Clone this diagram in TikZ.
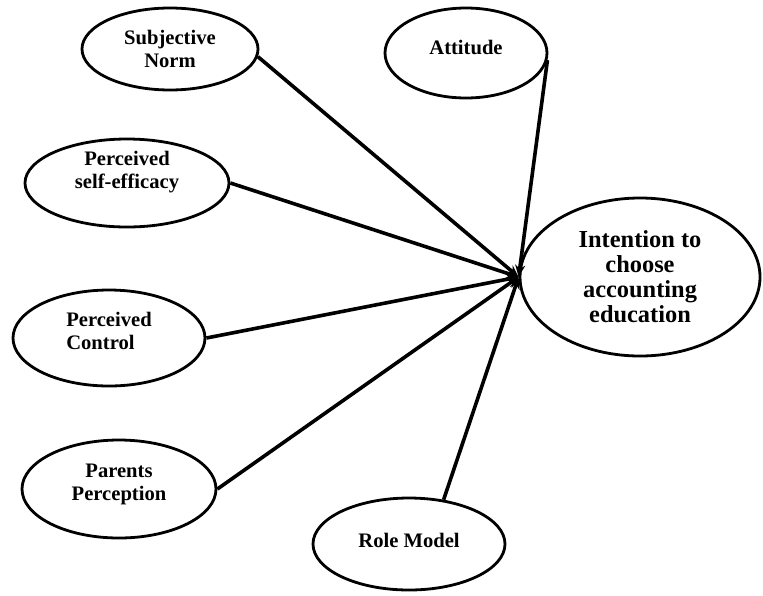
\documentclass[tikz,border=0pt]{standalone}
\usepackage{fontspec}
\setmainfont{Liberation Serif}
\usetikzlibrary{arrows.meta,shapes.geometric}

\begin{document}
\begin{tikzpicture}[x=0.5pt,y=-0.5pt,
  factor/.style={ellipse,draw,line width=1.4pt,inner sep=0pt},
  caption/.style={align=center,font=\fontsize{10.3}{11.5}\selectfont\bfseries},
  link/.style={line width=1.8pt,-{Stealth[length=6pt,width=5pt]}}]
\useasboundingbox (0,0) rectangle (763,595);
\node[factor,minimum width=88pt,minimum height=41pt,
  label={[caption]center:{Subjective\\Norm}}] (sn) at (170,49) {};
\node[factor,minimum width=81pt,minimum height=45pt,
  label={[caption,yshift=3pt]center:{Attitude}}] (att) at (466,53) {};
\node[factor,minimum width=102pt,minimum height=44pt,
  label={[caption,yshift=5.5pt]center:{Perceived\\self-efficacy}}] (pse) at (127,183) {};
\node[factor,minimum width=96pt,minimum height=48pt,
  label={[caption,align=left,yshift=3.5pt]center:{Perceived\\Control}}] (pc) at (109,338) {};
\node[factor,minimum width=97pt,minimum height=49pt,
  label={[caption,yshift=2.5pt]center:{Parents\\Perception}}] (pp) at (119,489) {};
\node[factor,minimum width=96pt,minimum height=46pt,
  label={[caption,yshift=2pt]center:{Role Model}}] (rm) at (409,544) {};
\node[factor,minimum width=120pt,minimum height=79pt,
  label={[caption,font=\fontsize{12.2}{12.5}\selectfont\bfseries]center:{Intention to\\choose\\accounting\\education}}]
  (intent) at (640,277) {};
\foreach \src in {sn.-5,att.-5,pse.east,pc.east,pp.east,rm.52}
  \draw[link] (\src) -- (intent.west);
\end{tikzpicture}
\end{document}
